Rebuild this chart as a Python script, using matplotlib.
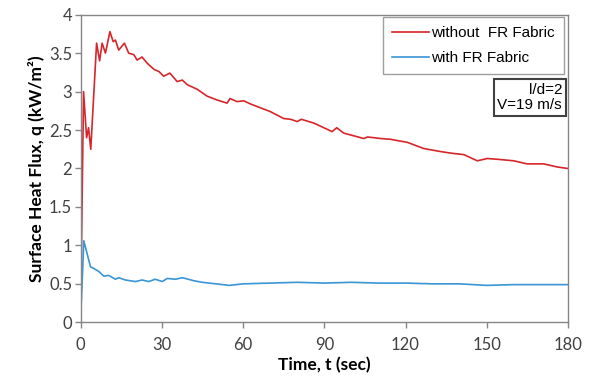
import matplotlib
matplotlib.use('Agg')
import matplotlib.pyplot as plt

# red curve: without FR fabric
t_without = [0, 1.13, 2.25, 2.97, 3.79, 5.94, 7.06, 7.98, 9.21, 10.85, 12.08, 12.9, 14.1,
             16.2, 17.8, 19.7, 20.9, 22.7, 24.6, 27.1, 29.0, 30.7, 33.0, 35.7, 37.6, 39.4,
             43.1, 46.8, 50.5, 54.1, 55.2, 57.8, 60.3, 62.7, 66.4, 70.1, 75.0, 77.6, 80.0,
             81.5, 86.2, 92.9, 94.6, 97.2, 104.6, 106.0, 110.8, 114.4, 120.7, 126.7, 133.0,
             136.7, 141.6, 146.5, 150.2, 153.9, 160.0, 164.9, 171.0, 176.0, 180]
q_without = [0, 3.00, 2.40, 2.53, 2.25, 3.63, 3.40, 3.63, 3.50, 3.78, 3.65, 3.67, 3.54,
             3.63, 3.50, 3.48, 3.41, 3.45, 3.37, 3.29, 3.26, 3.20, 3.24, 3.13, 3.15, 3.09,
             3.03, 2.94, 2.89, 2.85, 2.91, 2.87, 2.88, 2.84, 2.79, 2.74, 2.65, 2.64, 2.61,
             2.64, 2.59, 2.48, 2.53, 2.46, 2.39, 2.41, 2.39, 2.38, 2.34, 2.26, 2.22,
             2.20, 2.18, 2.10, 2.13, 2.12, 2.10, 2.06, 2.06, 2.02, 2.00]

# blue curve: with FR fabric
t_with = [0, 1.23, 2.46, 3.7, 4.9, 6.8, 8.6, 10.4, 12.9, 14.1, 16.6, 20.3, 22.7, 25.2,
          27.6, 30.2, 32.0, 35.1, 37.6, 41.9, 45, 50, 55, 60, 70, 80, 90, 100, 110, 120,
          130, 140, 150, 160, 170, 180]
q_with = [0, 1.06, 0.89, 0.72, 0.70, 0.66, 0.60, 0.61, 0.56, 0.58, 0.55, 0.53, 0.55, 0.53,
          0.56, 0.53, 0.57, 0.56, 0.58, 0.54, 0.52, 0.50, 0.48, 0.50, 0.51, 0.52, 0.51, 0.52,
          0.51, 0.51, 0.50, 0.50, 0.48, 0.49, 0.49, 0.49]

x_ticks = [0, 30, 60, 90, 120, 150, 180]
y_ticks = [0, 0.5, 1, 1.5, 2, 2.5, 3, 3.5, 4]
y_ticklabels = ['0', '0.5', '1', '1.5', '2', '2.5', '3', '3.5', '4']

fig = plt.figure(figsize=(5.92, 3.87), dpi=100)
ax = fig.add_axes([80.5 / 592, 1 - 322.3 / 387, 487.5 / 592, 307.6 / 387])

ax.plot(t_without, q_without, color="#d7262b", linewidth=1.2, label="without  FR Fabric")
ax.plot(t_with, q_with, color="#3a95d6", linewidth=1.2, label="with FR Fabric")

ax.set_xlim(0, 180)
ax.set_ylim(0, 4)
ax.set_xticks(x_ticks)
ax.set_yticks(y_ticks)
ax.set_yticklabels(y_ticklabels)

for lab in ax.get_xticklabels() + ax.get_yticklabels():
    lab.set_family("Lato")
    lab.set_fontsize(12)
    lab.set_color("#404040")
ax.tick_params(axis="x", direction="out", length=4.5, width=1, color="#868686", pad=6)
ax.tick_params(axis="y", direction="out", length=4.5, width=1, color="#868686", pad=1.5)

for side in ["top", "right", "left", "bottom"]:
    ax.spines[side].set_color("#868686")
    ax.spines[side].set_linewidth(1)

ax.set_xlabel("Time, t (sec)", family="Lato", fontweight="bold", fontsize=12.5, labelpad=3)
ax.set_ylabel("Surface Heat Flux, q (kW/m²)", family="Lato", fontweight="bold",
              fontsize=12.5, labelpad=3)

leg = ax.legend(loc="upper right", bbox_to_anchor=(1 - 4 / 487.5, 1 - 2.3 / 307.6),
                borderaxespad=0, fancybox=False, frameon=True,
                prop={"family": "Liberation Sans", "size": 11}, handlelength=2.4,
                handletextpad=0.15, labelspacing=0.7, borderpad=0.6)
leg.get_frame().set_edgecolor("#868686")
leg.get_frame().set_linewidth(1)

ax.text(1 - 6 / 487.5, 1 - 68 / 307.6, "l/d=2\nV=19 m/s", transform=ax.transAxes,
        ha="right", va="top", family="Liberation Sans", fontsize=11, multialignment="right",
        linespacing=1.15,
        bbox=dict(boxstyle="square,pad=0.25", facecolor="white", edgecolor="#404040", linewidth=1.5))

plt.savefig("out.png", dpi=100, facecolor="white")
plt.close()
